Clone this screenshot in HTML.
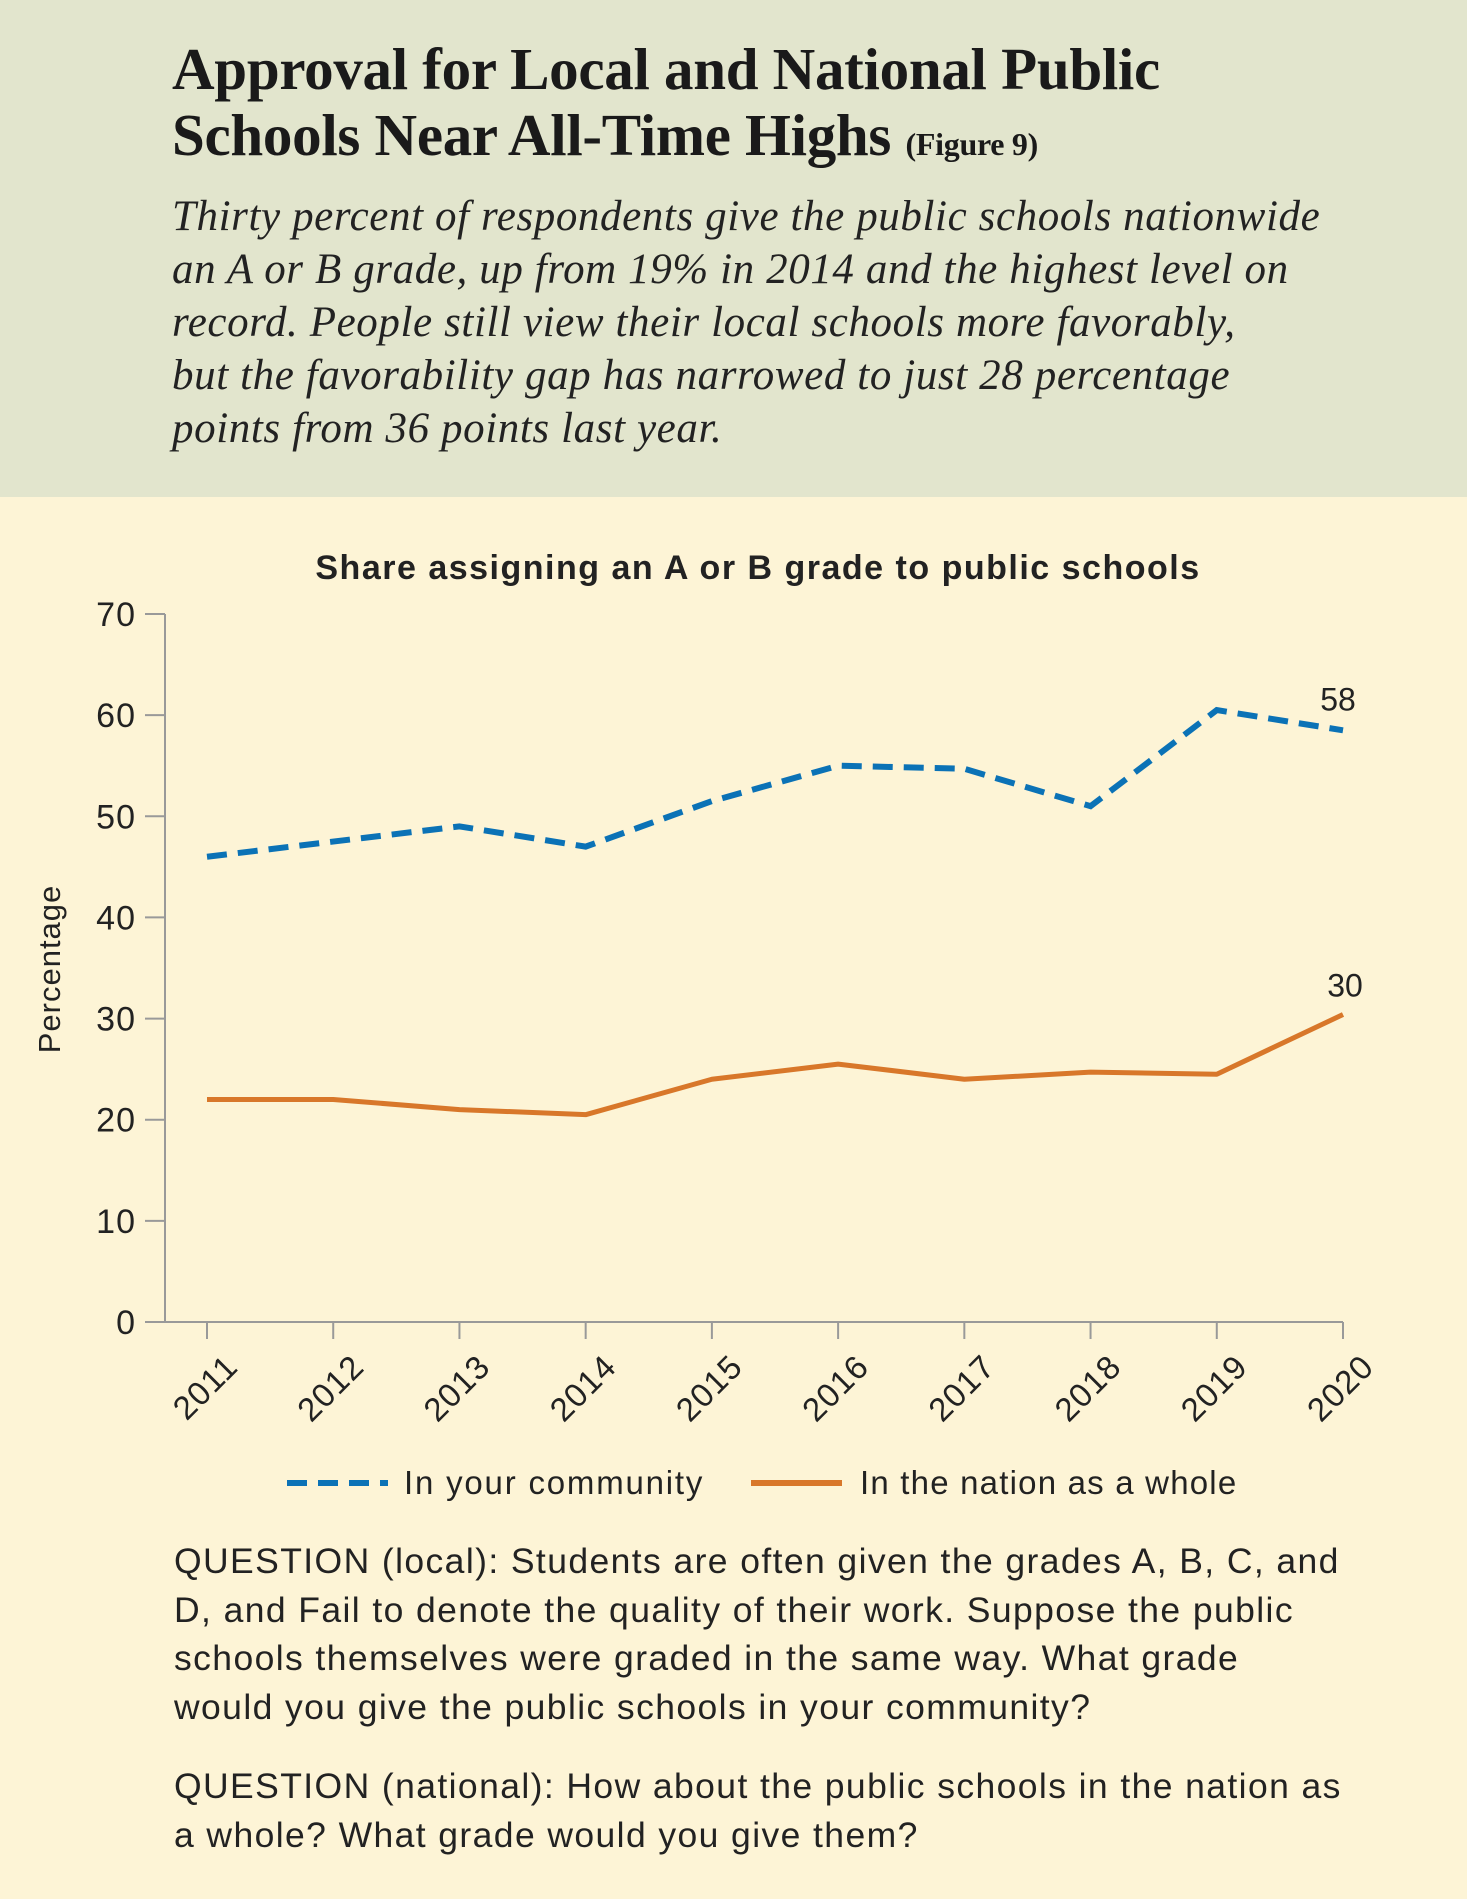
<!DOCTYPE html>
<html><head><meta charset="utf-8"><style>
body{margin:0;width:1467px;height:1899px;background:#fdf4d6;font-family:"Liberation Sans",sans-serif;overflow:hidden;position:relative}
#hdr{position:absolute;left:0;top:0;width:1467px;height:497px;background:#e2e5cd}
h1{position:absolute;left:172px;top:36px;margin:0;font-family:"Liberation Serif",serif;font-weight:bold;font-size:59px;line-height:66px;color:#1a1a1a;letter-spacing:-0.3px;white-space:nowrap}
h1 small{font-size:32px}
#sub{position:absolute;left:172px;top:190px;margin:0;font-family:"Liberation Serif",serif;font-style:italic;font-size:43px;line-height:53px;color:#222;white-space:nowrap;letter-spacing:0.6px}
.q{position:absolute;left:174px;font-size:35.5px;line-height:48.5px;color:#222;margin:0;white-space:nowrap;letter-spacing:1.4px}
</style></head><body>
<div id="hdr"></div>
<h1>Approval for Local and National Public<br>Schools Near All-Time Highs <small>(Figure 9)</small></h1>
<p id="sub">Thirty percent of respondents give the public schools nationwide<br>an A or B grade, up from 19% in 2014 and the highest level on<br>record. People still view their local schools more favorably,<br>but the favorability gap has narrowed to just 28 percentage<br>points from 36 points last year.</p>
<svg id="ch" width="1467" height="1540" style="position:absolute;left:0;top:0"></svg>
<p class="q" style="top:1537px">QUESTION (local): Students are often given the grades A, B, C, and<br>D, and Fail to denote the quality of their work. Suppose the public<br>schools themselves were graded in the same way. What grade<br>would you give the public schools in your community?</p>
<p class="q" style="top:1762px">QUESTION (national): How about the public schools in the nation as<br>a whole? What grade would you give them?</p>
<script>
const years=[2011,2012,2013,2014,2015,2016,2017,2018,2019,2020];
const community=[46,47.5,49,47,51.5,55,54.7,51,60.5,58.5];
const nation=[22,22,21,20.5,24,25.5,24,24.7,24.5,30.4];
const yTicks=[0,10,20,30,40,50,60,70];
const endLabels=["58","30"];
const NS="http://www.w3.org/2000/svg";
const svg=document.getElementById('ch');
const X0=207,X1=1343,Y0=1322,Y70=614,AX=165;
const xs=i=>X0+(X1-X0)*i/(years.length-1);
const ys=v=>Y0+(Y70-Y0)*v/70;
function mk(t,a,txt){const e=document.createElementNS(NS,t);for(const k in a)e.setAttribute(k,a[k]);if(txt!==undefined)e.textContent=txt;svg.appendChild(e);return e;}
let e;
e=mk('text',{x:758,y:579,'text-anchor':'middle','font-size':34,'font-weight':'bold',fill:'#222','letter-spacing':1.5},'Share assigning an A or B grade to public schools');


e=mk('line',{x1:AX,y1:Y70,x2:AX,y2:Y0,stroke:'#999','stroke-width':2});


e=mk('line',{x1:AX,y1:Y0,x2:X1,y2:Y0,stroke:'#999','stroke-width':2});


yTicks.forEach(v=>{
 e=mk('line',{x1:145,y1:ys(v),x2:AX,y2:ys(v),stroke:'#999','stroke-width':2});
 
 
 e=mk('text',{x:136,y:ys(v)+12,'text-anchor':'end','font-size':34,fill:'#222','letter-spacing':1},String(v));
 
 
});
years.forEach((y,i)=>{
 e=mk('line',{x1:xs(i),y1:Y0,x2:xs(i),y2:Y0+17,stroke:'#999','stroke-width':2});
 
 
 e=mk('text',{x:xs(i)+14,y:Y0+28,'text-anchor':'end','font-size':33,fill:'#222','letter-spacing':1,transform:`rotate(-45 ${xs(i)+14} ${Y0+28})`,dy:'0.8em'},String(y));
 
 
});
e=mk('text',{x:0,y:0,'text-anchor':'middle','font-size':31,fill:'#222','letter-spacing':1,transform:'translate(60 969) rotate(-90)'},'Percentage');


const pts=a=>a.map((v,i)=>xs(i)+','+ys(v)).join(' ');
e=mk('polyline',{points:pts(nation),fill:'none',stroke:'#d8772a','stroke-width':5,'stroke-linejoin':'round'});


e=mk('polyline',{points:pts(community),fill:'none',stroke:'#0b72b6','stroke-width':6,'stroke-dasharray':'20 11'});


e=mk('text',{x:xs(9)-5,y:ys(community[9])-20,'text-anchor':'middle','font-size':32,fill:'#222'},endLabels[0]);


e=mk('text',{x:xs(9)+2,y:ys(nation[9])-18,'text-anchor':'middle','font-size':32,fill:'#222'},endLabels[1]);


e=mk('line',{x1:287,y1:1483,x2:388,y2:1483,stroke:'#0b72b6','stroke-width':6,'stroke-dasharray':'20 11'});


e=mk('text',{x:404,y:1494,'font-size':33,fill:'#222','letter-spacing':1.8},'In your community');


e=mk('line',{x1:751,y1:1483,x2:842,y2:1483,stroke:'#d8772a','stroke-width':6});


e=mk('text',{x:860,y:1494,'font-size':33,fill:'#222','letter-spacing':1.2},'In the nation as a whole');


</script>
</body></html>
